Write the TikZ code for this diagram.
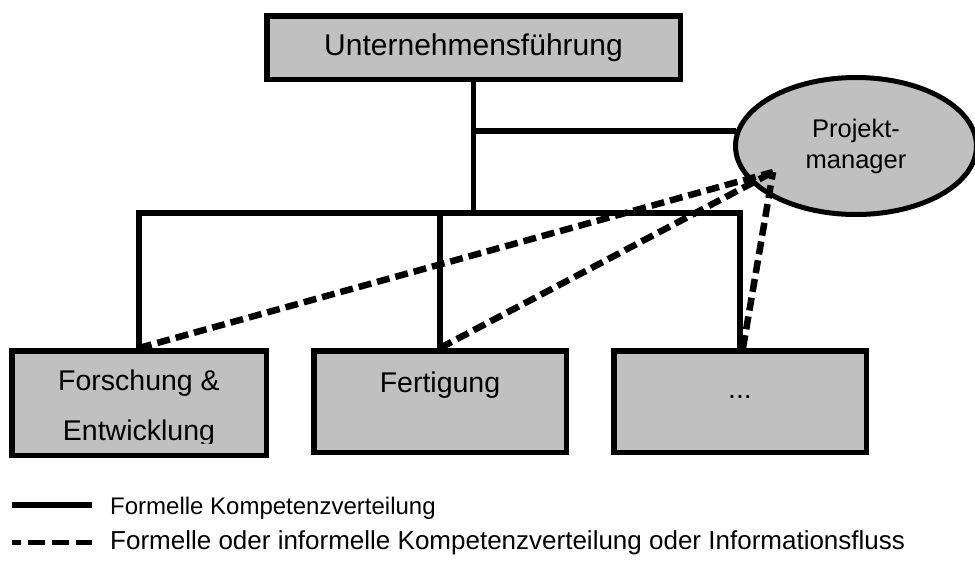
\documentclass[tikz,border=0pt]{standalone}
\usepackage{fontspec}
\setmainfont{Liberation Sans}
\usetikzlibrary{shapes.geometric}
\definecolor{boxgray}{RGB}{192,192,192}
\begin{document}
\begin{tikzpicture}[x=1pt,y=-1pt,
  unit/.style={rectangle, draw=black, fill=boxgray, line width=5.5pt, inner sep=0pt},
  boxtext/.style={inner sep=0pt, font=\fontsize{28.5}{50}\selectfont},
  formal/.style={line width=5.5pt},
  informal/.style={line width=6.5pt, dash pattern=on 13pt off 6pt},
  legendtext/.style={anchor=west, inner sep=0pt}]
\useasboundingbox (0,0) rectangle (975,563);

% management and project manager
\node[unit, minimum width=413.5pt, minimum height=63.5pt,
      font=\fontsize{30}{36}\selectfont] (ceo) at (473.5,47.5) {Unternehmensführung};
\node[ellipse, draw=black, fill=boxgray, line width=5pt, inner sep=0pt,
      minimum width=241pt, minimum height=137pt, align=center,
      font=\fontsize{25.5}{31}\selectfont] (pm) at (856,146) {Projekt-\\manager};

% departments
\node[unit, minimum width=254.5pt, minimum height=104.5pt] (fe) at (139,403) {};
\node[unit, minimum width=252.5pt, minimum height=101.5pt] (fg) at (440,401.5) {};
\node[unit, minimum width=252.5pt, minimum height=101.5pt] (etc) at (740,401.5) {};

\begin{scope}
  \clip (9,348) rectangle (269,443);
  \node[boxtext, align=center] (fe-text) at (139,408) {Forschung \&\\Entwicklung};
\end{scope}
\node[boxtext] (fg-text) at (440,385) {Fertigung};
\node[boxtext] (etc-text) at (740,397) {...};

% formal lines of authority
\coordinate (bus) at (473,213);
\draw[formal] (ceo.south) -- (ceo.south |- bus);
\draw[formal] (fe.north) |- (etc.north |- bus) -- (etc.north);
\draw[formal] (fg.north) -- (fg.north |- bus);
\draw[formal] (ceo.south |- pm.173) -- (pm.173);

% formal or informal links to the project manager
\coordinate (pm-in) at (773,172);
\draw[informal] (fe.north) -- (pm-in);
\draw[informal] (fg.north) -- (pm-in);
\draw[informal] ([xshift=3pt]etc.north) -- (pm-in);

% legend
\coordinate (l1a) at (12,505);
\coordinate (l1b) at (92,505);
\coordinate (l2a) at (12,542);
\coordinate (l2b) at (92,542);
\draw[line width=6pt] (l1a) -- (l1b);
\draw[line width=5pt, dash pattern=on 17pt off 7pt, dash phase=8pt] (l2a) -- (l2b);
\node[legendtext, font=\fontsize{24}{28}\selectfont] (l1text) at (110,508) {Formelle Kompetenzverteilung};
\node[legendtext, font=\fontsize{26}{30}\selectfont] (l2text) at (110,543) {Formelle oder informelle Kompetenzverteilung oder Informationsfluss};
\end{tikzpicture}
\end{document}
